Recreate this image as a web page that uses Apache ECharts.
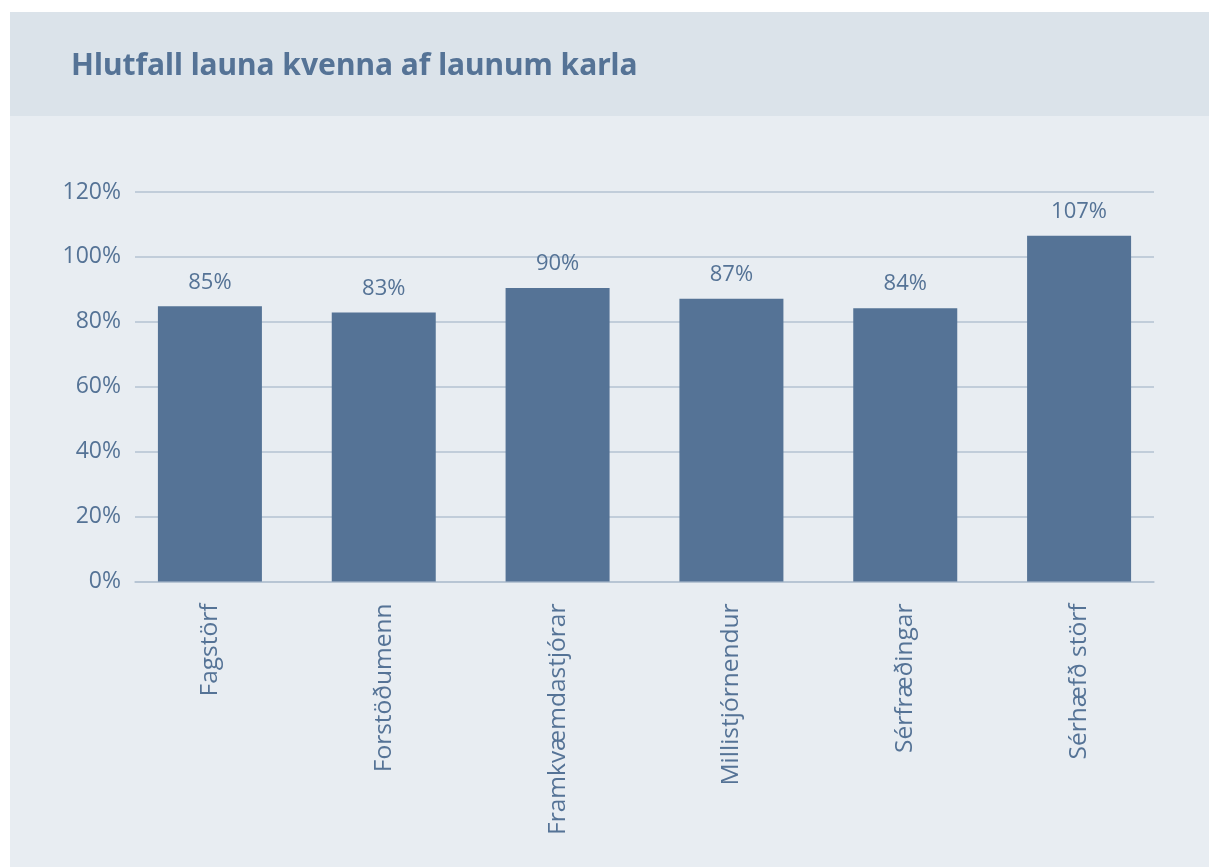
<!DOCTYPE html>
<html>
<head>
<meta charset="utf-8">
<script src="https://cdn.jsdelivr.net/npm/echarts@6/dist/echarts.min.js"></script>
<style>
  html, body { margin: 0; padding: 0; background: #ffffff; }
  #chart { width: 1209px; height: 867px; }
</style>
</head>
<body>
<div id="chart"></div>
<script>
const categories = ["Fagstörf", "Forstöðumenn", "Framkvæmdastjórar", "Millistjórnendur", "Sérfræðingar", "Sérhæfð störf"]
// hlutfall i %
const values = [84.8, 82.9, 90.4, 87.1, 84.2, 106.5]
const yTicks = [0, 20, 40, 60, 80, 100, 120]

const textColor = "#557396"
const font = "'Open Sans', 'Noto Sans', sans-serif"

const chart = echarts.init(document.querySelector("#chart"))
chart.setOption({
  backgroundColor: "#ffffff",
  graphic: [
    { type: "rect", shape: { x: 10, y: 12, width: 1199, height: 104 }, style: { fill: "#dbe3ea" }, z: -10 },
    { type: "rect", shape: { x: 10, y: 116, width: 1199, height: 751 }, style: { fill: "#e8edf2" }, z: -10 }
  ],
  title: {
    text: "Hlutfall launa kvenna af launum karla",
    left: 66,
    top: 46,
    textStyle: { color: textColor, fontFamily: "'Noto Sans', sans-serif", fontWeight: "bold", fontSize: 30 }
  },
  grid: [
    // gridlines + y labels
    { left: 135, right: 55, top: 192, bottom: 285.5 },
    // bars
    { left: 123, right: 43, top: 192, bottom: 285.5 }
  ],
  xAxis: [
    {
      gridIndex: 0,
      type: "category",
      data: categories,
      axisLine: { lineStyle: { color: "#b4c2d2", width: 1.5 } },
      axisTick: { show: false },
      axisLabel: { show: false }
    },
    {
      gridIndex: 1,
      type: "category",
      data: categories,
      axisLine: { show: false },
      axisTick: { show: false },
      axisLabel: {
        rotate: 90,
        margin: 22,
        color: textColor,
        fontFamily: font,
        fontSize: 24.5
      }
    }
  ],
  yAxis: [
    {
      gridIndex: 0,
      type: "value",
      min: yTicks[0],
      max: yTicks[yTicks.length - 1],
      interval: 20,
      axisLine: { show: false },
      axisTick: { show: false },
      splitLine: { lineStyle: { color: "#b4c2d2", width: 1.5 } },
      axisLabel: {
        margin: 14,
        color: textColor,
        fontFamily: font,
        fontSize: 23,
        formatter: v => v + "%"
      }
    },
    {
      gridIndex: 1,
      type: "value",
      min: yTicks[0],
      max: yTicks[yTicks.length - 1],
      show: false,
      splitLine: { show: false }
    }
  ],
  series: [{
    type: "bar",
    xAxisIndex: 1,
    yAxisIndex: 1,
    data: values,
    barWidth: 104,
    itemStyle: { color: textColor },
    label: {
      show: true,
      position: "top",
      distance: 13,
      color: textColor,
      fontFamily: font,
      fontSize: 22,
      formatter: p => Math.round(p.value) + "%"
    }
  }]
})
</script>
</body>
</html>
